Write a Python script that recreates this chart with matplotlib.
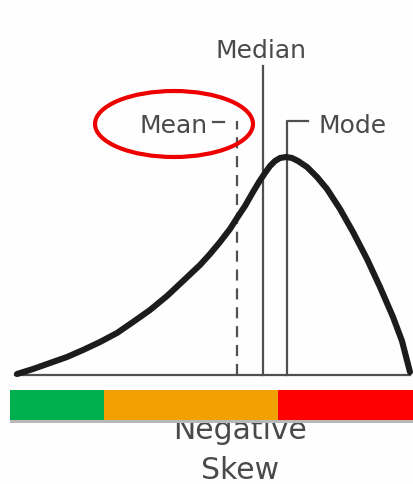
import matplotlib
matplotlib.use("Agg")
import matplotlib.pyplot as plt
from matplotlib.patches import Ellipse, Rectangle

# ---- data (x in px, heights above baseline in px) ----
curve_x = [17, 33, 50, 67, 83, 100, 117, 133, 150, 167, 183, 200, 210, 220, 230,
           237, 245, 253, 259, 265, 270, 275, 280, 286, 292, 298, 307, 317, 327,
           340, 353, 367, 380, 393, 402, 410]
curve_h = [1, 6, 12, 18, 25, 33, 42, 53, 65, 79, 94, 110, 121, 133, 146,
           157, 169, 183, 193, 202, 209, 214, 217, 218, 217, 214, 208, 198, 186,
           166, 143, 116, 88, 58, 34, 3]

baseline_x = [15, 410]
mean_x, median_x, mode_x = 237, 263, 287
mean_top, median_top, mode_top = 254, 309, 254
labels = ["Mean", "Median", "Mode"]
title_lines = ["Negative", "Skew"]

seg_edges = [10, 104, 278, 414]
seg_colors = ["#00B04F", "#F2A104", "#FF0000"]

txt_col = "#4a4a4a"
line_col = "#505050"

fig = plt.figure(figsize=(4.14, 4.85), dpi=100)
fig.patch.set_facecolor("#fefefe")
ax = fig.add_axes([0, 0, 1, 1])
ax.set_xlim(0, 414)
ax.set_ylim(-109, 376)
ax.axis("off")

# bottom label (drawn beneath the colour bar)
ax.text(240, -63, title_lines[0], ha="center", va="baseline", fontsize=21.5,
        color=txt_col, family="DejaVu Sans", zorder=1)
ax.text(240, -103, title_lines[1], ha="center", va="baseline", fontsize=21.5,
        color=txt_col, family="DejaVu Sans", zorder=1)

# colour bar with shadow
ax.add_patch(Rectangle((seg_edges[0], -48), seg_edges[-1] - seg_edges[0], 3,
                       facecolor="#b8b8b8", edgecolor="none", zorder=2))
for i, c in enumerate(seg_colors):
    ax.add_patch(Rectangle((seg_edges[i], -45), seg_edges[i + 1] - seg_edges[i], 30,
                           facecolor=c, edgecolor="none", zorder=3))

# baseline
ax.plot(baseline_x, [0, 0], color=line_col, lw=1.6, zorder=4)

# vertical marker lines
ax.plot([mean_x, mean_x], [0, mean_top], color=line_col, lw=1.6,
        dashes=(5, 3.5), zorder=4)
ax.plot([median_x, median_x], [0, median_top], color=line_col, lw=1.6, zorder=4)
ax.plot([mode_x, mode_x, mode_x + 21], [0, mode_top, mode_top], color=line_col,
        lw=1.6, zorder=4)
ax.plot([213, 224], [mean_top - 1, mean_top - 1], color=line_col, lw=1.6, zorder=4)

# curve
ax.plot(curve_x, curve_h, color="#1c1c1c", lw=4.4, solid_capstyle="round",
        solid_joinstyle="round", zorder=5)

# labels
ax.text(140, 243, labels[0], ha="left", va="baseline", fontsize=18,
        color=txt_col, family="DejaVu Sans", zorder=6)
ax.text(261, 318, labels[1], ha="center", va="baseline", fontsize=18,
        color=txt_col, family="DejaVu Sans", zorder=6)
ax.text(319, 243, labels[2], ha="left", va="baseline", fontsize=18,
        color=txt_col, family="DejaVu Sans", zorder=6)

# red highlight ellipse around "Mean"
ax.add_patch(Ellipse((174, 251), 158, 66, facecolor="none", edgecolor="#EE0000",
                     lw=3.0, zorder=7))

fig.savefig("out.png", dpi=100, facecolor=fig.get_facecolor())
